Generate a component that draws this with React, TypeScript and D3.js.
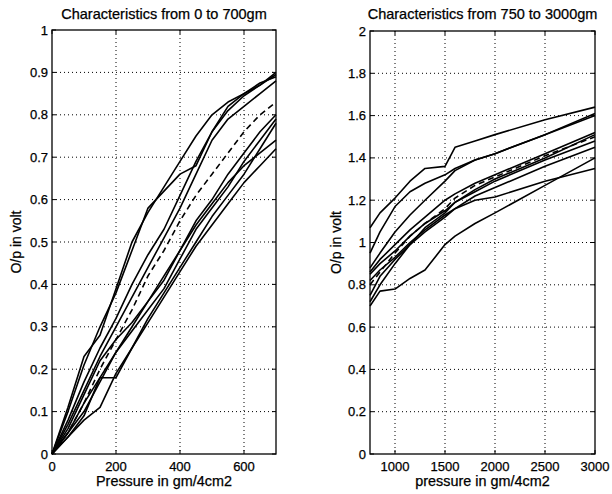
import React from "react";
import * as d3 from "d3";

// ---------- Left panel data (0 to 700 gm) ----------
const xLeft = [0, 50, 100, 150, 200, 250, 300, 350, 400, 450, 500, 550, 600, 650, 700];
const left1 = [0, 0.11, 0.23, 0.28, 0.39, 0.5, 0.57, 0.63, 0.69, 0.75, 0.8, 0.83, 0.85, 0.87, 0.895];
const left2 = [0, 0.1, 0.21, 0.3, 0.38, 0.48, 0.58, 0.62, 0.66, 0.68, 0.76, 0.82, 0.85, 0.875, 0.89];
const left3 = [0, 0.08, 0.17, 0.25, 0.32, 0.4, 0.47, 0.53, 0.61, 0.69, 0.76, 0.81, 0.845, 0.87, 0.9];
const left4 = [0, 0.07, 0.15, 0.23, 0.3, 0.37, 0.44, 0.51, 0.58, 0.66, 0.74, 0.79, 0.82, 0.85, 0.88];
const left5 = [0, 0.06, 0.14, 0.22, 0.27, 0.31, 0.36, 0.41, 0.48, 0.55, 0.6, 0.66, 0.71, 0.76, 0.8];
const left6 = [0, 0.05, 0.12, 0.18, 0.24, 0.29, 0.34, 0.39, 0.46, 0.53, 0.58, 0.63, 0.69, 0.74, 0.79];
const left7 = [0, 0.05, 0.1, 0.17, 0.24, 0.3, 0.36, 0.42, 0.48, 0.54, 0.59, 0.64, 0.68, 0.71, 0.74];
const left8 = [0, 0.04, 0.09, 0.18, 0.18, 0.25, 0.32, 0.38, 0.44, 0.5, 0.56, 0.61, 0.66, 0.72, 0.78];
const left9 = [0, 0.04, 0.08, 0.11, 0.19, 0.25, 0.31, 0.37, 0.43, 0.49, 0.54, 0.59, 0.64, 0.68, 0.72];
const leftMean = [0, 0.05, 0.12, 0.2, 0.27, 0.34, 0.42, 0.48, 0.55, 0.61, 0.66, 0.71, 0.76, 0.8, 0.83];
const leftSeries = [left1, left2, left3, left4, left5, left6, left7, left8, left9];
const leftXTicks = [0, 200, 400, 600];
const leftYTicks = [0, 0.1, 0.2, 0.3, 0.4, 0.5, 0.6, 0.7, 0.8, 0.9, 1];

// ---------- Right panel data (750 to 3000 gm) ----------
const xRight = [750, 850, 1000, 1150, 1300, 1500, 1600, 1800, 2000, 2500, 3000];
const right1 = [1.07, 1.14, 1.21, 1.29, 1.35, 1.36, 1.45, 1.48, 1.51, 1.58, 1.64];
const right2 = [0.95, 1.05, 1.17, 1.24, 1.28, 1.32, 1.35, 1.39, 1.42, 1.51, 1.61];
const right3 = [0.88, 0.95, 1.05, 1.13, 1.2, 1.29, 1.34, 1.39, 1.42, 1.51, 1.6];
const right4 = [0.86, 0.92, 0.99, 1.06, 1.12, 1.2, 1.23, 1.28, 1.32, 1.42, 1.52];
const right5 = [0.85, 0.9, 0.96, 1.03, 1.09, 1.15, 1.19, 1.25, 1.3, 1.4, 1.51];
const right6 = [0.72, 0.8, 0.9, 0.99, 1.07, 1.14, 1.19, 1.24, 1.29, 1.39, 1.48];
const right7 = [0.75, 0.84, 0.92, 0.99, 1.05, 1.12, 1.16, 1.22, 1.26, 1.36, 1.45];
const right8 = [0.82, 0.87, 0.93, 1.0, 1.06, 1.13, 1.16, 1.2, 1.215, 1.29, 1.35];
const right9 = [0.7, 0.77, 0.78, 0.83, 0.87, 0.99, 1.03, 1.09, 1.14, 1.27, 1.4];
const rightMean = [0.8, 0.86, 0.95, 1.03, 1.09, 1.16, 1.21, 1.27, 1.31, 1.41, 1.5];
const rightSeries = [right1, right2, right3, right4, right5, right6, right7, right8, right9];
const rightXTicks = [1000, 1500, 2000, 2500, 3000];
const rightYTicks = [0, 0.2, 0.4, 0.6, 0.8, 1, 1.2, 1.4, 1.6, 1.8, 2];

const FONT = "'Liberation Sans', Arial, Helvetica, sans-serif";

type PanelProps = {
  x0: number; x1: number; y0: number; y1: number;
  xDomain: [number, number]; yDomain: [number, number];
  xs: number[]; series: number[][]; mean: number[];
  xTicks: number[]; yTicks: number[];
  title: string; xLabel: string; yLabel: string; yLabelX: number;
};

function Panel(p: PanelProps) {
  const xs = d3.scaleLinear().domain(p.xDomain).range([p.x0, p.x1]);
  const ys = d3.scaleLinear().domain(p.yDomain).range([p.y1, p.y0]);
  const line = d3
    .line<number>()
    .x((_, i) => xs(p.xs[i]))
    .y((d) => ys(d));
  const tick = 4;
  const fmt = (v: number) => String(+v.toFixed(2));
  const cx = (p.x0 + p.x1) / 2;
  const cy = (p.y0 + p.y1) / 2;
  const textStyle = { fontFamily: FONT, fill: "#000", stroke: "#000", strokeWidth: 0.25 };
  return (
    <g>
      {/* grid */}
      {p.xTicks.filter((t) => t > p.xDomain[0] && t < p.xDomain[1]).map((t) => (
        <line key={"gx" + t} x1={xs(t)} x2={xs(t)} y1={p.y0} y2={p.y1}
          stroke="#000" strokeWidth={1} strokeDasharray="1 3" />
      ))}
      {p.yTicks.filter((t) => t > p.yDomain[0] && t < p.yDomain[1]).map((t) => (
        <line key={"gy" + t} x1={p.x0} x2={p.x1} y1={ys(t)} y2={ys(t)}
          stroke="#000" strokeWidth={1} strokeDasharray="1 3" />
      ))}
      {/* data */}
      {p.series.map((s, i) => (
        <path key={"s" + i} d={line(s) || ""} fill="none" stroke="#000" strokeWidth={1.6}
          strokeLinejoin="round" />
      ))}
      <path d={line(p.mean) || ""} fill="none" stroke="#000" strokeWidth={1.6} strokeDasharray="6 4" />
      {/* box */}
      <rect x={p.x0} y={p.y0} width={p.x1 - p.x0} height={p.y1 - p.y0}
        fill="none" stroke="#000" strokeWidth={1.3} />
      {/* ticks */}
      {p.xTicks.map((t) => (
        <g key={"tx" + t}>
          <line x1={xs(t)} x2={xs(t)} y1={p.y1} y2={p.y1 - tick} stroke="#000" />
          <line x1={xs(t)} x2={xs(t)} y1={p.y0} y2={p.y0 + tick} stroke="#000" />
          <text x={xs(t)} y={p.y1 + 17} textAnchor="middle" fontSize={13} style={textStyle}>{fmt(t)}</text>
        </g>
      ))}
      {p.yTicks.map((t) => (
        <g key={"ty" + t}>
          <line x1={p.x0} x2={p.x0 + tick} y1={ys(t)} y2={ys(t)} stroke="#000" />
          <line x1={p.x1} x2={p.x1 - tick} y1={ys(t)} y2={ys(t)} stroke="#000" />
          <text x={p.x0 - 4} y={ys(t) + 4.5} textAnchor="end" fontSize={13} style={textStyle}>{fmt(t)}</text>
        </g>
      ))}
      <text x={cx} y={19} textAnchor="middle" fontSize={14.5} style={textStyle}>{p.title}</text>
      <text x={cx} y={p.y1 + 32} textAnchor="middle" fontSize={14.4} style={textStyle}>{p.xLabel}</text>
      <text transform={`translate(${p.yLabelX},${cy}) rotate(-90)`} textAnchor="middle" fontSize={14}
        style={textStyle}>{p.yLabel}</text>
    </g>
  );
}

export default function App() {
  return (
    <svg width={612} height={494} style={{ position: "absolute", left: 0, top: 0, background: "#fff" }}>
      <rect width={612} height={494} fill="#fff" />
      <Panel x0={52} x1={276} y0={30} y1={454} xDomain={[0, 700]} yDomain={[0, 1]}
        xs={xLeft} series={leftSeries} mean={leftMean} xTicks={leftXTicks} yTicks={leftYTicks}
        title="Characteristics from 0 to 700gm" xLabel="Pressure in gm/4cm2" yLabel="O/p in volt" yLabelX={21} />
      <Panel x0={370} x1={595} y0={31} y1={454} xDomain={[750, 3000]} yDomain={[0, 2]}
        xs={xRight} series={rightSeries} mean={rightMean} xTicks={rightXTicks} yTicks={rightYTicks}
        title="Characteristics from 750 to 3000gm" xLabel="pressure in gm/4cm2" yLabel="O/p in volt" yLabelX={341} />
    </svg>
  );
}
